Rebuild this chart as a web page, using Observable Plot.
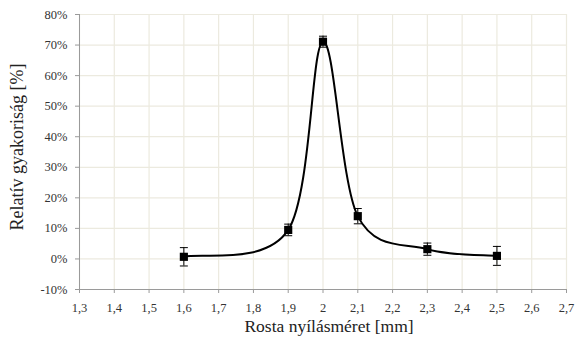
<!DOCTYPE html>
<html><head><meta charset="utf-8">
<script src="https://cdn.jsdelivr.net/npm/d3@7"></script>
<script src="https://cdn.jsdelivr.net/npm/@observablehq/plot@0.6"></script>
<style>body{margin:0;background:#fff} svg text{font-family:"Liberation Serif","Times New Roman",serif !important}</style>
</head><body><div id="chart"></div>
<script>
const sizes = [1.6, 1.9, 2.0, 2.1, 2.3, 2.5];
const freq = [0.7, 9.5, 71.1, 14.0, 3.2, 1.0];
const err = [3.0, 1.9, 1.8, 2.5, 2.0, 3.1];
const xTicks = [1.3,1.4,1.5,1.6,1.7,1.8,1.9,2.0,2.1,2.2,2.3,2.4,2.5,2.6,2.7];
const yTicks = [-10,0,10,20,30,40,50,60,70,80];

const data = sizes.map((x,i)=>({x, y:freq[i], lo:freq[i]-err[i], hi:freq[i]+err[i]}));
const caps = data.flatMap(d => [{x: d.x, y: d.lo}, {x: d.x, y: d.hi}]);
const font = "'Liberation Serif', 'Times New Roman', serif";
const gridColor = "#eceadf";
const capSymbol = {draw(ctx, size) { const w = 4; ctx.moveTo(-w, 0); ctx.lineTo(w, 0); }};

// Spreadsheet-style smoothed line (Bezier, arm 1/6, capped at half segment)
function SmoothCurve(context) { this._context = context; }
SmoothCurve.prototype = {
  areaStart() { this._line = 0; }, areaEnd() { this._line = NaN; },
  lineStart() { this._pts = []; },
  point(x, y) { this._pts.push([+x, +y]); },
  lineEnd() {
    const p = this._pts, n = p.length, c = this._context;
    if (!n) return;
    c.moveTo(p[0][0], p[0][1]);
    const dist = (a, b) => Math.hypot(a[0] - b[0], a[1] - b[1]);
    for (let i = 0; i < n - 1; i++) {
      const P0 = p[i - 1] || p[i], P1 = p[i], P2 = p[i + 1], P3 = p[i + 2] || p[i + 1];
      const d02 = dist(P0, P2), d12 = dist(P1, P2), d13 = dist(P1, P3);
      let f0 = 1 / 6, f1 = 1 / 6;
      if (d02 / 6 >= d12 / 2 && d02 > 0) f0 = d12 / d02 / 2;
      if (d13 / 6 >= d12 / 2 && d13 > 0) f1 = d12 / d13 / 2;
      c.bezierCurveTo(P1[0] + (P2[0] - P0[0]) * f0, P1[1] + (P2[1] - P0[1]) * f0,
                      P2[0] - (P3[0] - P1[0]) * f1, P2[1] - (P3[1] - P1[1]) * f1,
                      P2[0], P2[1]);
    }
  }
};
const smoothCurve = ctx => new SmoothCurve(ctx);

const chart = Plot.plot({
  width: 576, height: 345,
  marginLeft: 79, marginRight: 10, marginTop: 14, marginBottom: 56,
  style: {fontFamily: font, fontSize: "12px", color: "#333", background: "#fff"},
  x: {type: "linear", domain: [1.3, 2.7], label: null},
  y: {type: "linear", domain: [-10, 80], label: null},
  marks: [
    Plot.gridX(xTicks, {stroke: gridColor, strokeOpacity: 1, strokeWidth: 1.2}),
    Plot.gridY(yTicks, {stroke: gridColor, strokeOpacity: 1, strokeWidth: 1.2}),
    Plot.ruleY([-10], {stroke: "#9a9a9a"}),
    Plot.ruleX([1.3], {stroke: "#9a9a9a"}),
    Plot.axisX(xTicks, {tickSize: 4, stroke: "#9a9a9a", tickPadding: 10, fontSize: 12.5, fill: "#333", fontFamily: font,
      tickFormat: d => String(+d.toFixed(1)).replace(".", ",")}),
    Plot.axisY(yTicks, {tickSize: 4, stroke: "#9a9a9a", tickPadding: 8, fontSize: 12.5, fill: "#333", fontFamily: font,
      tickFormat: d => d + "%"}),
    Plot.line(data, {x: "x", y: "y", curve: smoothCurve, stroke: "#000", strokeWidth: 2}),
    Plot.ruleX(data, {x: "x", y1: "lo", y2: "hi", stroke: "#000", strokeWidth: 1}),
    Plot.dot(caps, {x: "x", y: "y", symbol: capSymbol, r: 4, stroke: "#000", strokeWidth: 1, fill: "none"}),
    Plot.dot(data, {x: "x", y: "y", symbol: "square", r: 4.6, fill: "#000", stroke: "none"}),
    Plot.text(["Rosta nyílásméret [mm]"], {frameAnchor: "bottom", dy: 42, dx: 6, fontSize: 17.5, fill: "#222", fontFamily: font}),
    Plot.text(["Relatív gyakoriság [%]"], {frameAnchor: "left", textAnchor: "middle", dx: -62, dy: -5, rotate: -90, fontSize: 18, fill: "#222", fontFamily: font})
  ]
});
document.getElementById("chart").append(chart);
</script>
</body></html>
